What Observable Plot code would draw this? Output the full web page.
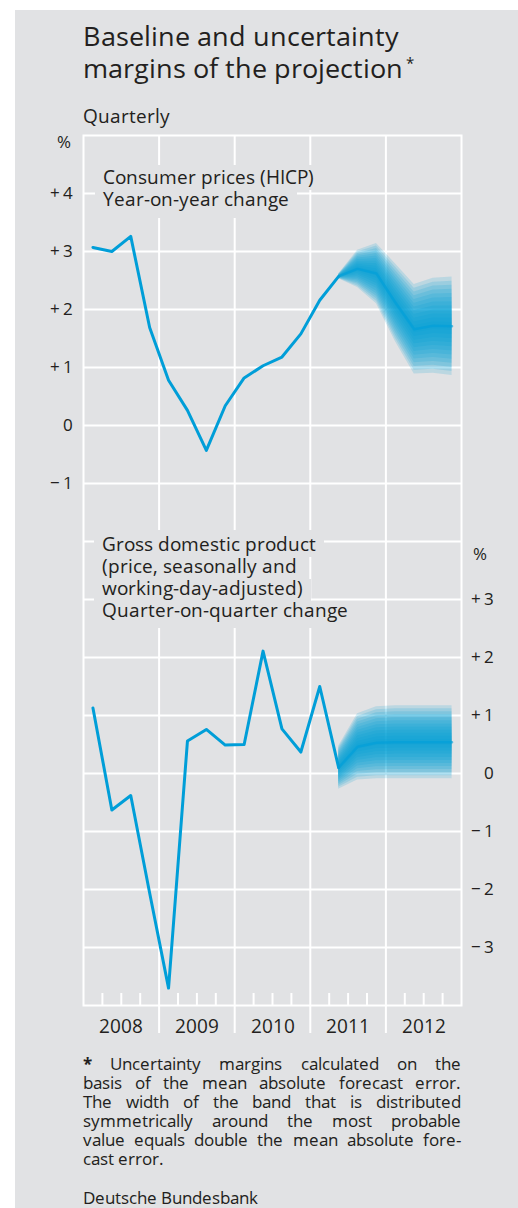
<!DOCTYPE html>
<html>
<head>
<meta charset="utf-8">
<script src="https://cdn.jsdelivr.net/npm/d3@7"></script>
<script src="https://cdn.jsdelivr.net/npm/@observablehq/plot@0.6"></script>
<style>
@font-face { font-family: "OS Tight"; src: local("Open Sans"), local("Open Sans Regular"), local("OpenSans-Regular"); font-weight: 400; ascent-override: 80%; descent-override: 20%; line-gap-override: 0%; }
@font-face { font-family: "OS Tight"; src: local("Open Sans Bold"), local("OpenSans-Bold"), local("Open Sans"); font-weight: 700; ascent-override: 80%; descent-override: 20%; line-gap-override: 0%; }
html, body { margin: 0; padding: 0; background: #ffffff; }
body { width: 518px; height: 1208px; position: relative; overflow: hidden; font-family: "OS Tight", "Open Sans", sans-serif; color: #231f20; }
#panel { position: absolute; left: 15px; top: 10px; right: 0; bottom: 0; background: #e1e2e4; }
.abs { position: absolute; white-space: nowrap; }
#title { left: 83px; top: 22.95px; font-size: 26.5px; line-height: 31.6px; }
#title .star { font-size: 15px; margin-left: 3px; position: relative; top: -9px; }
#subtitle { left: 83px; top: 108.1px; font-size: 19px; line-height: 19px; }
.unit { font-size: 16.5px; line-height: 16.5px; }
#unitL { right: 447px; top: 134.8px; }
#unitR { left: 473px; top: 546.8px; }
.chart { position: absolute; left: 0; top: 130px; }
.chart svg g[aria-label="y-axis tick label"] { font-size: 16.5px !important; }
.chart svg g[aria-label="x-axis tick label"] { font-size: 18.5px !important; }
.lbl { font-size: 19.3px; }
.lbl span { display: block; width: fit-content; background: #e1e2e4; padding: 0 8px; margin-left: -8px; }
#lblHicp { left: 103px; top: 165.2px; line-height: 22px; }
#lblHicp span.first { padding-top: 3px; }
#lblGdp { left: 102px; top: 530.4px; line-height: 21.7px; }
#lblGdp span.first { padding-top: 5px; }
.lbl span.last { padding-bottom: 6px; }
#foot { left: 83px; top: 1054.6px; width: 378px; font-size: 17.3px; line-height: 19.1px; white-space: normal; }
#foot div.j { text-align: justify; text-align-last: justify; }
#source { left: 83px; top: 1188.6px; font-size: 17.3px; line-height: 19.1px; }
</style>
</head>
<body>
<div id="panel"></div>
<div id="title" class="abs">Baseline and uncertainty<br>margins of the projection<span class="star">*</span></div>
<div id="subtitle" class="abs">Quarterly</div>
<div id="unitL" class="abs unit">%</div>
<div id="chart1" class="chart"></div>
<div id="lblHicp" class="abs lbl"><span class="first">Consumer prices (HICP)</span><span class="last">Year-on-year change</span></div>
<div id="lblGdp" class="abs lbl"><span class="first">Gross domestic product</span><span>(price, seasonally and</span><span>working-day-adjusted)</span><span class="last">Quarter-on-quarter change</span></div>
<div id="chart2" class="chart"></div>
<div id="unitR" class="abs unit">%</div>
<div id="foot" class="abs">
  <div class="j"><b>*</b> Uncertainty margins calculated on the</div>
  <div class="j">basis of the mean absolute forecast error.</div>
  <div class="j">The width of the band that is distributed</div>
  <div class="j">symmetrically around the most probable</div>
  <div class="j">value equals double the mean absolute fore-</div>
  <div>cast error.</div>
</div>
<div id="source" class="abs">Deutsche Bundesbank</div>
<script>
// ---- data (quarterly, 2008 Q1 – 2012 Q4) ----
const years = [2008, 2009, 2010, 2011, 2012];
const firstProjectionQuarter = 13; // 2011 Q2

// Consumer prices (HICP), year-on-year change, %
const hicpHistory = [3.07, 3.00, 3.26, 1.69, 0.78, 0.26, -0.43, 0.34, 0.82, 1.03, 1.18, 1.58, 2.16, 2.57];
const hicpBaseline = [2.57, 2.70, 2.62, 2.12, 1.66, 1.72, 1.71];
const hicpMargin = [0.04, 0.32, 0.52, 0.67, 0.77, 0.82, 0.85];
const hicpTicks = [-1, 0, 1, 2, 3, 4];

// GDP, quarter-on-quarter change, %
const gdpHistory = [1.13, -0.63, -0.38, -2.06, -3.70, 0.56, 0.76, 0.49, 0.50, 2.11, 0.77, 0.37, 1.50, 0.10];
const gdpBaseline = [0.10, 0.46, 0.53, 0.54, 0.54, 0.54, 0.54];
const gdpMargin = [0.37, 0.57, 0.62, 0.63, 0.63, 0.63, 0.63];
const gdpTicks = [-3, -2, -1, 0, 1, 2, 3];

// ---- helpers ----
const blue = "#009ed8";
const nBands = 12;
const quarterX = i => 2008 + (i + 0.5) / 4;
const history = vals => vals.map((v, i) => ({x: quarterX(i), y: v}));
const projection = vals => vals.map((v, j) => ({x: quarterX(firstProjectionQuarter + j), y: v}));
const fan = (base, margin) => {
  const out = [];
  for (let k = 1; k <= nBands; k++) {
    base.forEach((b, j) => out.push({band: k, x: quarterX(firstProjectionQuarter + j),
      y1: b - margin[j] * k / nBands, y2: b + margin[j] * k / nBands}));
  }
  return out;
};
const signed = v => v > 0 ? "+\u2009" + v : v < 0 ? "\u2212\u2009" + Math.abs(v) : "0";
const quarterBounds = years.flatMap(y => [y + 0.25, y + 0.5, y + 0.75]);
const yearCenters = years.map(y => y + 0.5);

const W = 518, H = 915;
const common = {
  width: W, height: H, marginLeft: 83, marginRight: 57, marginTop: 5, marginBottom: 40,
  x: {domain: [2008, 2013]},
  style: {background: "transparent", fontFamily: "'OS Tight', 'Open Sans', sans-serif", overflow: "visible", color: "#231f20"}
};

const p1 = Plot.plot({
  ...common,
  y: {domain: [-10, 5]},
  marks: [
    Plot.ruleY(d3.range(-9, 5), {stroke: "white", strokeWidth: 2}),
    Plot.ruleX(years.slice(1), {stroke: "white", strokeWidth: 2, insetBottom: -28}),
    Plot.ruleX(quarterBounds, {stroke: "white", strokeWidth: 2, insetTop: 858}),
    Plot.frame({stroke: "white", strokeWidth: 2}),
    Plot.axisY(hicpTicks, {anchor: "left", tickSize: 0, tickPadding: 10.5, tickFormat: signed, label: null}),
    Plot.axisX(yearCenters, {anchor: "bottom", tickSize: 0, tickPadding: 14, tickFormat: d => String(Math.floor(d)), label: null}),
    Plot.areaY(fan(hicpBaseline, hicpMargin), {x: "x", y1: "y1", y2: "y2", z: "band", fill: blue, fillOpacity: 0.17}),
    Plot.line(projection(hicpBaseline), {x: "x", y: "y", stroke: blue, strokeWidth: 2.5, strokeOpacity: 0.6}),
    Plot.line(history(hicpHistory), {x: "x", y: "y", stroke: blue, strokeWidth: 3})
  ]
});
document.getElementById("chart1").append(p1);

const p2 = Plot.plot({
  ...common,
  x: {domain: [2008, 2013], axis: null},
  y: {domain: [-4, 11]},
  marks: [
    Plot.axisY(gdpTicks, {anchor: "right", tickSize: 0, tickPadding: 32, textAnchor: "end", tickFormat: signed, label: null}),
    Plot.areaY(fan(gdpBaseline, gdpMargin), {x: "x", y1: "y1", y2: "y2", z: "band", fill: blue, fillOpacity: 0.17}),
    Plot.line(projection(gdpBaseline), {x: "x", y: "y", stroke: blue, strokeWidth: 2.5, strokeOpacity: 0.6}),
    Plot.line(history(gdpHistory), {x: "x", y: "y", stroke: blue, strokeWidth: 3})
  ]
});
document.getElementById("chart2").append(p2);
</script>
</body>
</html>
